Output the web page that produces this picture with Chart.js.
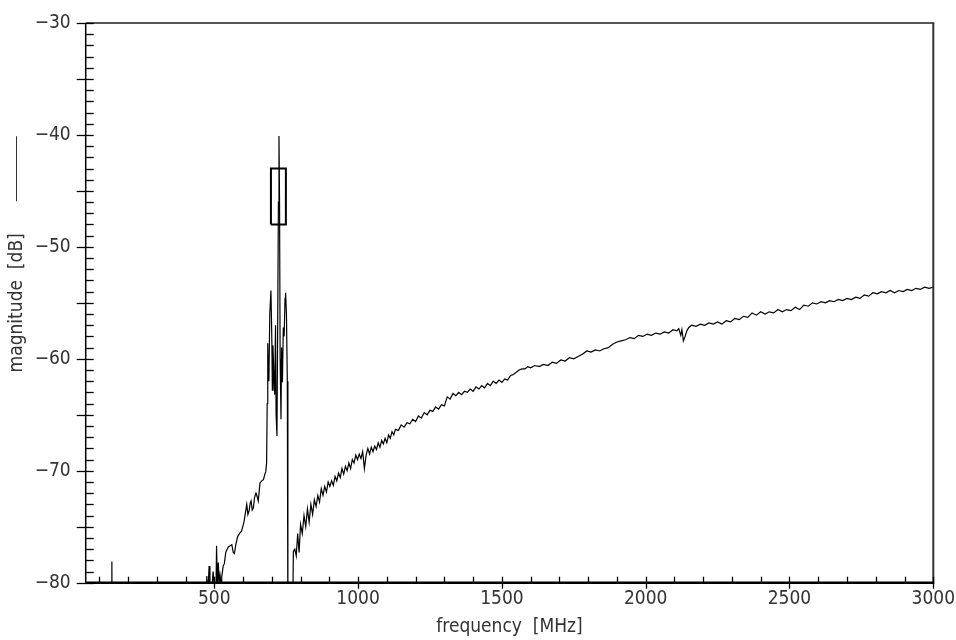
<!DOCTYPE html>
<html><head><meta charset="utf-8">
<script src="https://cdn.jsdelivr.net/npm/chart.js@4/dist/chart.umd.min.js"></script>
<style>html,body{margin:0;padding:0;background:#fff}#wrap{width:956px;height:640px;position:relative}</style>
</head><body><div id="wrap"><canvas id="c" width="956" height="640"></canvas></div>
<script>
// ---- data (frequency in MHz, magnitude in dB) ----
const floorFreq = [53,140,143,144,145,470,474,478,482,485,490,496,502,506,508,511,514,517,520,524,526,531,535,540,543,549,555,561,566,570,575,581,588,595,600,604,608,613,617,621,625,628,632,636,640,645,649,653,659,665,671,676,679,682];
const floorDb   = [-85,-85,-85,-78.1,-85,-85,-79.4,-81,-78.5,-80.5,-81,-79.0,-81,-80.5,-76.7,-80.5,-78.2,-80,-79.3,-80.2,-79.5,-78.5,-78.3,-77.3,-77.1,-76.8,-76.7,-76.6,-77.3,-77.4,-76.6,-75.9,-75.6,-75.4,-74.9,-74.5,-73.8,-73.0,-73.9,-73.6,-72.9,-72.7,-73.5,-73.3,-72.4,-72.0,-72.3,-72.7,-71.1,-70.9,-70.8,-70.3,-70.1,-69.3];

const peakFreq = [684,686,688,690,693,697,700,702,704,707,710,713,715,718,721,723,725,727,729,732,734,737,740,743,746,748,751,754,756,772];
const peakDb   = [-64,-58.6,-61.5,-62,-56,-53.9,-58,-62.8,-58.8,-61.3,-63.2,-57,-65,-66.9,-55,-46,-40.1,-46,-60,-65.4,-59,-62.1,-57.2,-58,-54.6,-54.1,-56,-62,-85,-85];

const traceFreq = [775,780,785,790,795,800,806,812,818,824,830,836,842,848,854,860,866,872,878,884,890,896,902,908,914,920,926,932,938,944,950,956,962,968,974,980,986,992,998,1004,1010,1016,1022,1028,1034,1040,1046,1052,1058,1064,1070,1076,1082,1088,1094,1100,1106,1112,1118,1124,1130,1140,1150,1160,1170,1180,1190,1200,1210,1220,1230,1240,1250,1260,1270,1280,1290,1300,1310,1320,1330,1340,1350,1360,1370,1380,1390,1400,1410,1420,1430,1440,1450,1460,1470,1480,1490,1500,1510,1520,1530,1540,1550,1560,1570,1580,1590,1600,1615,1630,1645,1660,1675,1690,1705,1720,1735,1750,1765,1780,1795,1810,1825,1840,1855,1870,1885,1900,1915,1930,1945,1960,1975,1990,2005,2020,2035,2050,2065,2080,2095,2108,2115,2122,2126,2131,2137,2143,2150,2160,2175,2190,2205,2220,2235,2250,2265,2280,2295,2310,2325,2340,2355,2370,2385,2400,2415,2430,2445,2460,2475,2490,2505,2520,2535,2550,2565,2580,2595,2610,2625,2640,2655,2670,2685,2700,2715,2730,2745,2760,2775,2790,2805,2820,2835,2850,2865,2880,2895,2910,2925,2940,2955,2970,2985,3000];
const traceDb   = [-77.2,-77.0,-77.6,-75.6,-77.3,-74.8,-75.6,-74.0,-75.0,-73.4,-74.6,-73.0,-73.9,-72.6,-73.2,-72.2,-72.8,-71.6,-72.2,-71.4,-71.9,-71.0,-71.4,-70.9,-71.3,-70.5,-70.9,-70.2,-70.6,-69.8,-70.3,-69.6,-70.0,-69.3,-69.8,-69.0,-69.3,-68.6,-69.0,-68.5,-68.9,-68.3,-69.8,-68.6,-68.0,-68.5,-67.9,-68.3,-67.8,-68.1,-67.5,-67.9,-67.3,-67.6,-67.1,-67.5,-66.8,-67.1,-66.5,-66.8,-66.3,-66.4,-65.9,-66.1,-65.7,-65.8,-65.4,-65.6,-65.1,-65.3,-64.8,-65.0,-64.6,-64.7,-64.3,-64.5,-64.1,-64.2,-63.4,-63.6,-63.1,-63.3,-63.0,-63.2,-62.9,-63.0,-62.7,-62.9,-62.5,-62.7,-62.4,-62.6,-62.2,-62.4,-62.0,-62.2,-61.9,-62.1,-61.8,-61.9,-61.5,-61.4,-61.2,-61.0,-60.9,-60.9,-60.7,-60.8,-60.6,-60.7,-60.5,-60.6,-60.3,-60.4,-60.1,-60.2,-59.9,-60.0,-59.8,-59.6,-59.3,-59.4,-59.2,-59.3,-59.1,-59.0,-58.7,-58.5,-58.4,-58.3,-58.1,-58.2,-57.9,-58.0,-57.8,-57.9,-57.7,-57.8,-57.6,-57.7,-57.4,-57.5,-57.3,-57.9,-57.4,-58.4,-58.0,-57.5,-57.2,-57.0,-57.1,-56.9,-57.0,-56.8,-56.9,-56.7,-56.9,-56.6,-56.7,-56.4,-56.5,-56.2,-56.3,-55.9,-56.1,-55.8,-56.0,-55.8,-55.9,-55.6,-55.8,-55.6,-55.7,-55.4,-55.6,-55.2,-55.3,-55.0,-55.1,-54.9,-55.0,-54.8,-54.9,-54.7,-54.8,-54.6,-54.7,-54.5,-54.6,-54.3,-54.4,-54.1,-54.2,-54.0,-54.1,-53.9,-54.1,-53.9,-54.0,-53.8,-53.9,-53.7,-53.8,-53.6,-53.7,-53.6];

// rectangular marker around the carrier
const markerFreq = [697,697,749,749,697];
const markerDb   = [-48,-43,-43,-48,-48];

// ---- axis ticks ----
const xMinorTicks = [100,200,300,400,500,600,700,800,900,1000,1100,1200,1300,1400,1500,1600,1700,1800,1900,2000,2100,2200,2300,2400,2500,2600,2700,2800,2900,3000];
const xLabelTicks = [500,1000,1500,2000,2500,3000];
const yMinorTicks = [-80,-79,-78,-77,-76,-75,-74,-73,-72,-71,-70,-69,-68,-67,-66,-65,-64,-63,-62,-61,-60,-59,-58,-57,-56,-55,-54,-53,-52,-51,-50,-49,-48,-47,-46,-45,-44,-43,-42,-41,-40,-39,-38,-37,-36,-35,-34,-33,-32,-31,-30];
const yMidTicks   = [-80,-75,-70,-65,-60,-55,-50,-45,-40,-35,-30];
const yLabelTicks = [-80,-70,-60,-50,-40,-30];
const xTitle = 'frequency  [MHz]';
const yTitle = 'magnitude  [dB]';

const FONT = "'Liberation Sans Narrow','DejaVu Sans Condensed','Roboto',sans-serif";

const toPts = (f, d) => f.map((v, i) => ({x: v, y: d[i]}));
const mainPts = toPts(floorFreq, floorDb).concat(toPts(peakFreq, peakDb), toPts(traceFreq, traceDb));

const framePlugin = {
  id: 'frame',
  afterDatasetsDraw(chart) {
    const {ctx, chartArea: a, scales: {x, y}} = chart;
    ctx.save();
    // top & right frame
    ctx.strokeStyle = '#555'; ctx.lineWidth = 2;
    ctx.beginPath(); ctx.moveTo(a.left, a.top); ctx.lineTo(a.right + 1, a.top); ctx.stroke();
    ctx.strokeStyle = '#333';
    ctx.beginPath(); ctx.moveTo(a.right, a.top); ctx.lineTo(a.right, a.bottom); ctx.stroke();
    // left axis
    ctx.strokeStyle = '#000'; ctx.lineWidth = 1.5;
    ctx.beginPath(); ctx.moveTo(a.left, a.top); ctx.lineTo(a.left, a.bottom); ctx.stroke();
    ctx.lineWidth = 1.3;
    yMinorTicks.forEach(v => {
      const py = Math.round(y.getPixelForValue(v)) + 0.5;
      const mid = yMidTicks.includes(v);
      ctx.beginPath(); ctx.moveTo(a.left - (mid ? 9 : 0), py); ctx.lineTo(a.left + 8, py); ctx.stroke();
    });
    xMinorTicks.forEach(v => {
      const px = Math.round(x.getPixelForValue(v)) + 0.5;
      const mid = xLabelTicks.includes(v);
      ctx.beginPath(); ctx.moveTo(px, a.bottom - 6); ctx.lineTo(px, a.bottom + (mid ? 6 : 0)); ctx.stroke();
    });
    // bottom axis
    ctx.lineWidth = 2.5;
    ctx.beginPath(); ctx.moveTo(a.left, a.bottom); ctx.lineTo(a.right + 1, a.bottom); ctx.stroke();
    // legend line sample above the y title
    ctx.font = "19px " + FONT;
    const tw = ctx.measureText(yTitle).width;
    const cy = (a.top + a.bottom) / 2;
    const tx = 16;
    const topOfTitle = cy - tw / 2;
    ctx.lineWidth = 1; ctx.strokeStyle = '#333';
    ctx.beginPath(); ctx.moveTo(tx + 0.5, topOfTitle - 32); ctx.lineTo(tx + 0.5, topOfTitle - 97); ctx.stroke();
    ctx.restore();
  }
};

new Chart(document.getElementById('c'), {
  type: 'scatter',
  data: {
    datasets: [
      {data: mainPts, showLine: true, borderColor: '#000', borderWidth: 1.2, pointRadius: 0, tension: 0},
      {data: toPts(markerFreq, markerDb), showLine: true, borderColor: '#000', borderWidth: 2, pointRadius: 0, tension: 0}
    ]
  },
  options: {
    responsive: false, animation: false, devicePixelRatio: 1,
    layout: {padding: {top: 23, right: 22.7, left: 0, bottom: 0}},
    plugins: {legend: {display: false}, tooltip: {enabled: false}},
    scales: {
      x: {
        type: 'linear', min: 53, max: 3000,
        grid: {display: false, drawTicks: false}, border: {display: false},
        afterBuildTicks: s => { s.ticks = xMinorTicks.map(v => ({value: v})); },
        afterFit: s => { s.height = 57.3; s.paddingLeft = 0; s.paddingRight = 0; },
        ticks: {autoSkip: false, maxRotation: 0, padding: 5, color: '#333',
          font: {family: FONT, size: 19},
          callback: v => xLabelTicks.includes(v) ? String(v) : ''},
        title: {display: true, text: xTitle, color: '#333', font: {family: FONT, size: 19}, padding: {top: 0, bottom: 2}}
      },
      y: {
        min: -80, max: -30,
        grid: {display: false, drawTicks: false}, border: {display: false},
        afterBuildTicks: s => { s.ticks = yLabelTicks.map(v => ({value: v})); },
        afterFit: s => { s.width = 85.7; s.paddingTop = 0; s.paddingBottom = 0; },
        ticks: {padding: 15, color: '#333', font: {family: FONT, size: 19},
          callback: v => (v < 0 ? '\u2212' : '') + Math.abs(v)},
        title: {display: true, text: yTitle, color: '#333', font: {family: FONT, size: 19}, padding: {top: 6, bottom: 0}}
      }
    }
  },
  plugins: [framePlugin]
});
</script></body></html>
